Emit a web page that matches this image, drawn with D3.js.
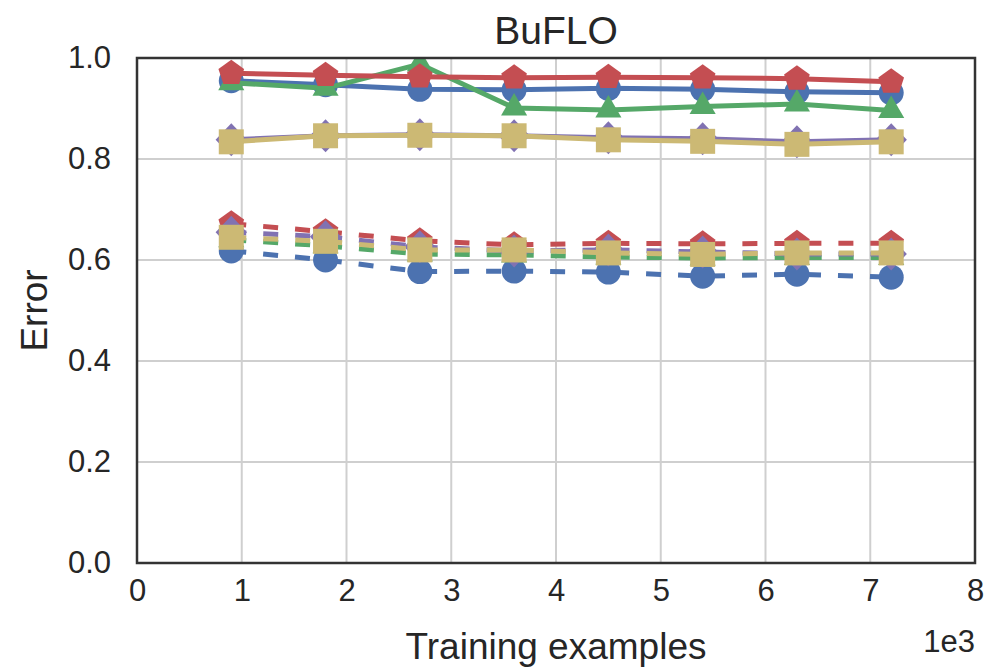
<!DOCTYPE html>
<html>
<head>
<meta charset="utf-8">
<script src="https://cdn.jsdelivr.net/npm/d3@7"></script>
<style>
  body { margin: 0; background: #fff; }
  text { font-family: "Liberation Sans", Arial, sans-serif; fill: #262626; }
</style>
</head>
<body>
<div id="chart"></div>
<script>
// training set sizes (x 1e3)
const trainSizes = [0.9, 1.8, 2.7, 3.6, 4.5, 5.4, 6.3, 7.2];
const xTicks = [0, 1, 2, 3, 4, 5, 6, 7, 8];
const yTicks = [0.0, 0.2, 0.4, 0.6, 0.8, 1.0];

// solid lines
const blueSolid   = [0.955, 0.947, 0.938, 0.937, 0.940, 0.938, 0.933, 0.931];
const greenSolid  = [0.951, 0.940, 0.988, 0.901, 0.897, 0.904, 0.909, 0.896];
const redSolid    = [0.970, 0.966, 0.963, 0.961, 0.962, 0.961, 0.959, 0.953];
const purpleSolid = [0.838, 0.846, 0.848, 0.846, 0.842, 0.840, 0.834, 0.838];
const yellowSolid = [0.834, 0.846, 0.847, 0.846, 0.838, 0.835, 0.829, 0.834];

// dashed lines
const blueDashed   = [0.618, 0.600, 0.577, 0.578, 0.576, 0.568, 0.572, 0.566];
const greenDashed  = [0.640, 0.628, 0.612, 0.610, 0.606, 0.604, 0.605, 0.605];
const redDashed    = [0.672, 0.656, 0.638, 0.630, 0.633, 0.632, 0.633, 0.633];
const purpleDashed = [0.655, 0.646, 0.626, 0.618, 0.620, 0.616, 0.612, 0.612];
const yellowDashed = [0.645, 0.637, 0.620, 0.620, 0.614, 0.611, 0.614, 0.614];

const col = {blue: "#4C72B0", green: "#55A868", red: "#C44E52", purple: "#8172B2", yellow: "#CCB974"};

const series = [
  {vals: blueSolid, color: col.blue, marker: "circle", dash: null},
  {vals: greenSolid, color: col.green, marker: "triangle", dash: null},
  {vals: redSolid, color: col.red, marker: "pentagon", dash: null},
  {vals: purpleSolid, color: col.purple, marker: "diamond", dash: null},
  {vals: yellowSolid, color: col.yellow, marker: "square", dash: null},
  {vals: blueDashed, color: col.blue, marker: "circle", dash: "15,17"},
  {vals: greenDashed, color: col.green, marker: "triangle", dash: "15,17"},
  {vals: redDashed, color: col.red, marker: "pentagon", dash: "15,17"},
  {vals: purpleDashed, color: col.purple, marker: "diamond", dash: "15,17"},
  {vals: yellowDashed, color: col.yellow, marker: "square", dash: "15,17"}
];

var width = 990, height = 671;
var margin = {left: 137, right: 15, top: 58, bottom: 108};
var font = "'Liberation Sans', Arial, sans-serif";

var svg = d3.select("#chart").append("svg")
  .attr("width", width).attr("height", height);

var x = d3.scaleLinear().domain([0, 8]).range([margin.left, width - margin.right]);
var y = d3.scaleLinear().domain([0, 1]).range([height - margin.bottom, margin.top]);

svg.append("clipPath").attr("id", "clip").append("rect")
  .attr("x", x(0)).attr("y", y(1))
  .attr("width", x(8) - x(0)).attr("height", y(0) - y(1));

// grid
svg.append("g").selectAll("line").data(xTicks).enter().append("line")
  .attr("x1", d => x(d)).attr("x2", d => x(d))
  .attr("y1", y(0)).attr("y2", y(1))
  .attr("stroke", "#cfcfcf").attr("stroke-width", 2);
svg.append("g").selectAll("line").data(yTicks).enter().append("line")
  .attr("x1", x(0)).attr("x2", x(8))
  .attr("y1", d => y(d)).attr("y2", d => y(d))
  .attr("stroke", "#cfcfcf").attr("stroke-width", 2);

// axes (labels only, seaborn whitegrid style)
var xAxis = svg.append("g").attr("transform", "translate(0," + y(0) + ")")
  .call(d3.axisBottom(x).tickValues(xTicks).tickFormat(d3.format("d")).tickSize(0).tickPadding(16));
var yAxis = svg.append("g").attr("transform", "translate(" + x(0) + ",0)")
  .call(d3.axisLeft(y).tickValues(yTicks).tickFormat(d3.format(".1f")).tickSize(0).tickPadding(26));
[xAxis, yAxis].forEach(a => {
  a.select(".domain").remove();
  a.selectAll("text").style("font-size", "31px").attr("fill", "#262626")
    .style("font-family", font);
});

// marker shapes, r = half size in px
function markerPath(shape, r) {
  var p = d3.path();
  if (shape == "circle") {
    p.arc(0, 0, r, 0, 2 * Math.PI);
  } else if (shape == "square") {
    p.rect(-r, -r, 2 * r, 2 * r);
  } else if (shape == "diamond") {
    p.moveTo(0, -r); p.lineTo(r * 0.95, 0); p.lineTo(0, r); p.lineTo(-r * 0.95, 0); p.closePath();
  } else if (shape == "triangle") {
    p.moveTo(0, -r); p.lineTo(r * 0.87, r * 0.5); p.lineTo(-r * 0.87, r * 0.5); p.closePath();
  } else if (shape == "pentagon") {
    for (var i = 0; i < 5; i++) {
      var a = -Math.PI / 2 + i * 2 * Math.PI / 5;
      if (i == 0) p.moveTo(r * Math.cos(a), r * Math.sin(a));
      else p.lineTo(r * Math.cos(a), r * Math.sin(a));
    }
    p.closePath();
  }
  return p.toString();
}
var markerSize = {circle: 12.5, square: 12.5, diamond: 16.5, triangle: 15, pentagon: 13.5};

var line = d3.line().x((d, i) => x(trainSizes[i])).y(d => y(d));

var plot = svg.append("g").attr("clip-path", "url(#clip)");
series.forEach(s => {
  var g = plot.append("g");
  g.append("path")
    .attr("d", line(s.vals))
    .attr("fill", "none")
    .attr("stroke", s.color)
    .attr("stroke-width", 5)
    .attr("stroke-dasharray", s.dash);
  g.selectAll("path.m").data(s.vals).enter().append("path")
    .attr("class", "m")
    .attr("d", markerPath(s.marker, markerSize[s.marker]))
    .attr("transform", (d, i) => "translate(" + x(trainSizes[i]) + "," + y(d) + ")")
    .attr("fill", s.color);
});

// frame
svg.append("rect")
  .attr("x", x(0)).attr("y", y(1))
  .attr("width", x(8) - x(0)).attr("height", y(0) - y(1))
  .attr("fill", "none").attr("stroke", "#333").attr("stroke-width", 2.5);

// titles
svg.append("text").attr("x", (x(0) + x(8)) / 2).attr("y", 44)
  .attr("text-anchor", "middle").style("font-size", "39px").text("BuFLO");
svg.append("text").attr("transform", "translate(47," + y(0.5) + ") rotate(-90)")
  .attr("text-anchor", "middle").style("font-size", "37px").text("Error");
svg.append("text").attr("x", (x(0) + x(8)) / 2).attr("y", 659)
  .attr("text-anchor", "middle").style("font-size", "37px").text("Training examples");
svg.append("text").attr("x", x(8)).attr("y", 652)
  .attr("text-anchor", "end").style("font-size", "31px").text("1e3");
</script>
</body>
</html>
